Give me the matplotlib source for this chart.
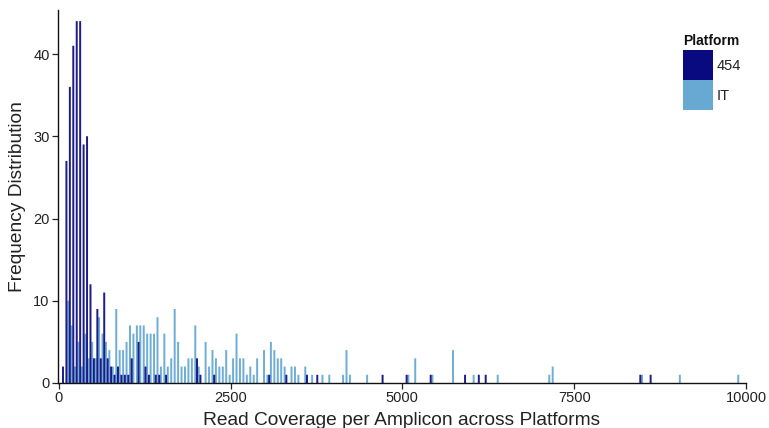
import matplotlib
matplotlib.use("Agg")
import matplotlib.pyplot as plt
from matplotlib.patches import Rectangle

plt.rcParams["font.family"] = ["Liberation Sans", "DejaVu Sans"]

# Histogram of read coverage per amplicon, binwidth 50 reads
binwidth = 50

# 454 platform: bin start (reads) and number of amplicons
cov_454 = [50, 100, 150, 200, 250, 300, 350, 400, 450, 500, 550, 600, 650, 700,
           750, 800, 850, 900, 950, 1000, 1050, 1150, 1250, 1300, 1400, 1450,
           1550, 2000, 2050, 2250, 3050, 3300, 3600, 3750, 4700, 5050, 5400,
           5900, 6100, 6200, 8450, 8600]
freq_454 = [2, 27, 36, 41, 44, 44, 29, 30, 12, 3, 9, 3, 11, 3,
            2, 1, 2, 1, 1, 1, 3, 5, 2, 1, 1, 1,
            1, 3, 1, 1, 1, 1, 1, 1, 1, 1, 1,
            1, 1, 1, 1, 1]

# Ion Torrent platform: bin start (reads) and number of amplicons
cov_it = [100, 150, 200, 250, 300, 350, 400, 450, 500, 550, 600, 650, 700, 750,
          800, 850, 900, 950, 1000, 1050, 1100, 1150, 1200, 1250, 1300, 1350,
          1400, 1450, 1500, 1550, 1600, 1650, 1700, 1750, 1800, 1850, 1900,
          1950, 2000, 2100, 2150, 2200, 2250, 2300, 2350, 2400, 2450, 2500,
          2550, 2600, 2650, 2700, 2750, 2800, 2850, 2950, 3000, 3050, 3100,
          3150, 3200, 3250, 3350, 3400, 3450, 3550, 3650, 3800, 3900, 4100,
          4150, 4200, 4450, 5050, 5150, 5400, 5700, 6000, 6350, 7100, 7150,
          8450, 9000, 9850]
freq_it = [10, 7, 2, 5, 2, 6, 3, 5, 3, 8, 6, 5, 4, 2,
           9, 4, 4, 5, 7, 6, 7, 7, 7, 6, 6, 6,
           8, 2, 6, 2, 3, 9, 5, 2, 2, 3, 3,
           7, 2, 5, 2, 4, 3, 2, 2, 4, 1, 3,
           6, 3, 3, 1, 2, 1, 3, 4, 1, 5, 4,
           3, 3, 2, 2, 2, 1, 2, 1, 1, 1, 1,
           4, 1, 1, 1, 3, 1, 4, 1, 1, 1, 2,
           1, 1, 1]

platforms = ["454", "IT"]
colors = {"454": "#0a0a80", "IT": "#68a9d3"}

fig = plt.figure(figsize=(7.69, 4.28), dpi=100)
ax = fig.add_axes([58 / 769, 45 / 428, (746 - 58) / 769, (383 - 10) / 428])

# dodged bars: 454 in the left half of each bin, IT in the right half
half = binwidth / 2
ax.bar([c + 1.5 * half for c in cov_it], freq_it, width=half * 1.15,
       color=colors["IT"], linewidth=0, snap=False, alpha=0.95)
ax.bar([c + 0.5 * half for c in cov_454], freq_454, width=half * 1.15,
       color=colors["454"], linewidth=0, snap=False, alpha=0.92)

ax.set_xlim(-10, 10000)
ax.set_ylim(0, 45.35)
ax.set_xticks([0, 2500, 5000, 7500, 10000])
ax.set_yticks([0, 10, 20, 30, 40])
ax.tick_params(axis="both", labelsize=10.5, colors="#222222", length=4,
               width=0.9, direction="out", pad=2)
for side in ("top", "right"):
    ax.spines[side].set_visible(False)
for side in ("left", "bottom"):
    ax.spines[side].set_linewidth(1.0)
    ax.spines[side].set_color("#111111")

ax.set_xlabel("Read Coverage per Amplicon across Platforms", fontsize=13.8,
              color="#222222", labelpad=4.5)
ax.set_ylabel("Frequency Distribution", fontsize=13.8, color="#222222",
              labelpad=5)

# legend drawn in figure pixels
W, H = 769, 428
fig.text(683 / W, 1 - 41 / H, "Platform", fontsize=10, fontweight="bold",
         color="#111111", ha="left", va="center")
for i, p in enumerate(platforms):
    top = 50 + i * 30
    fig.patches.append(Rectangle((683 / W, 1 - (top + 30) / H), 30 / W, 30 / H,
                                 transform=fig.transFigure,
                                 facecolor=colors[p], edgecolor="none"))
    fig.text(717 / W, 1 - (top + 16) / H, p, fontsize=10.5, color="#222222",
             ha="left", va="center")

fig.savefig("out.png", dpi=100)
